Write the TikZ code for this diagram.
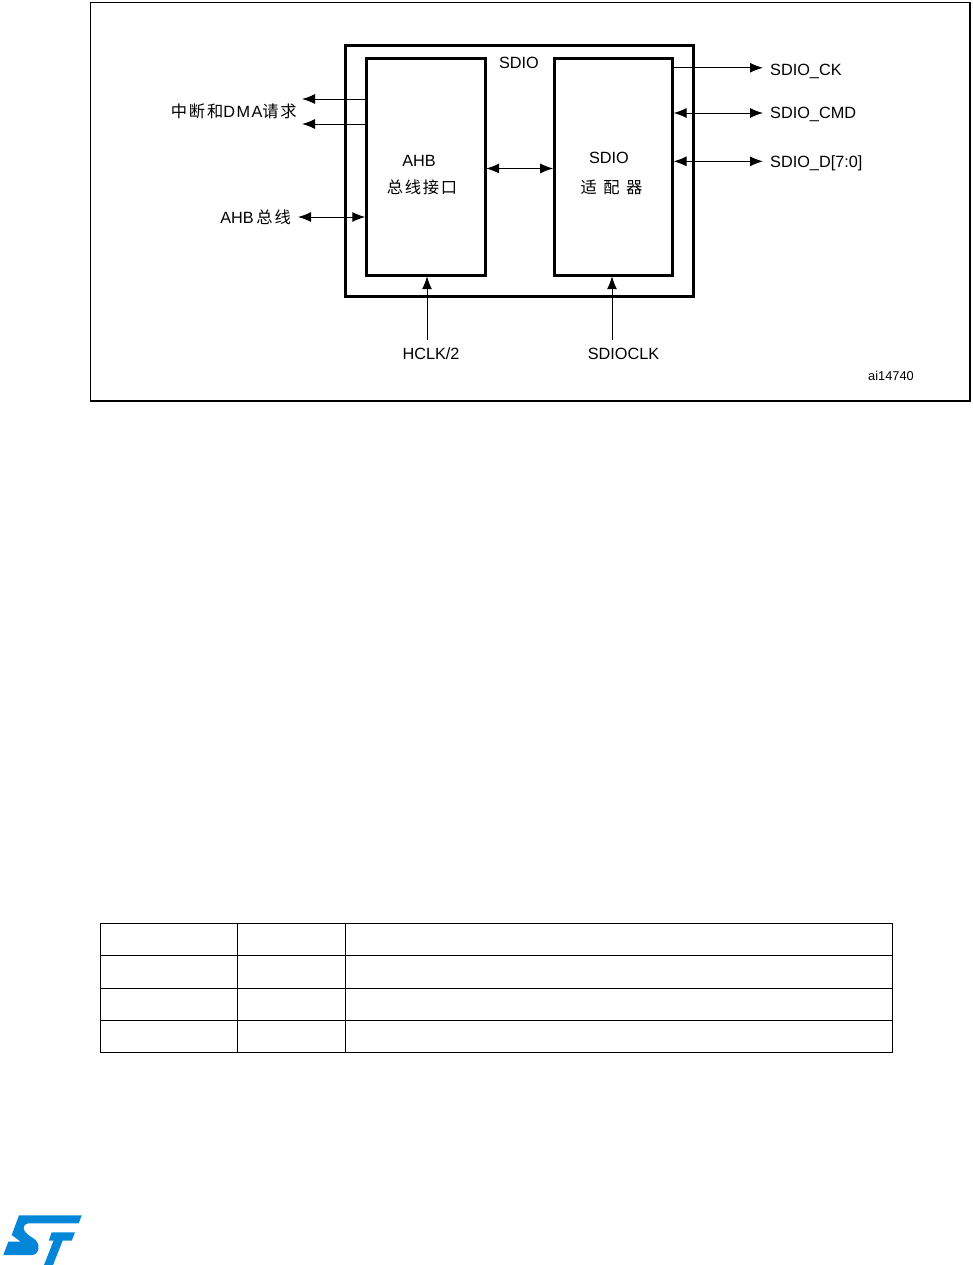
\documentclass[tikz,border=0pt]{standalone}
\usepackage{fontspec}
\setmainfont{Liberation Sans}
\newfontfamily\cjk[LetterSpace=11]{Noto Sans CJK SC}
\usetikzlibrary{arrows.meta,positioning}
\definecolor{LogoBlue}{RGB}{3,134,216}
\newcommand{\px}{0.75pt}

\begin{document}
\begin{tikzpicture}[
    x=0.75pt, y=-0.75pt,
    >={Latex[length=13*\px, width=10*\px]},
    frame/.style={draw, line width=1.3*\px, inner sep=0pt},
    box/.style={draw, line width=3*\px, inner sep=0pt, outer sep=0.7pt},
    txt/.style={inner sep=0pt, font=\fontsize{12.2pt}{14pt}\selectfont},
    sig/.style={txt, anchor=west, inner xsep=5.2pt, text height=8.8pt, text depth=0pt},
    arr/.style={->, line width=1*\px},
    biarr/.style={<->, line width=1*\px},
    grid/.style={line width=1*\px}
]
    \useasboundingbox (0,0) rectangle (972,1265);

    % outer frame and blocks
    \node[frame, minimum width=879.5*\px, minimum height=398.5*\px] (border) at (530.2,201.7) {};
    \node[box, minimum width=347.5*\px, minimum height=251*\px] (sdio) at (519.7,170.5) {};
    \node[box, minimum width=119*\px, minimum height=216.5*\px] (ahb) at (425.7,167) {};
    \node[box, minimum width=118.5*\px, minimum height=216.5*\px] (adapter) at (613.4,167) {};

    % texts inside
    \node[txt] (sdiotitle) at (519,62.5) {SDIO};
    \node[txt] (ahbname) at (419,160.5) {AHB};
    \node[txt] (ahbcn) at (422,187) {\cjk 总线接口};
    \node[txt] (adaptername) at (609,158) {SDIO};
    \node[txt] (adaptercn) at (611.5,187) {\cjk 适\hspace{0.4em}配\hspace{0.4em}器};

    % signals on the right
    \node[sig] (ck) at (763,69.5) {SDIO\_CK};
    \node[sig] (cmd) at (763,113) {SDIO\_CMD};
    \node[sig] (data) at (763,162) {SDIO\_D[7:0]};

    % signals on the left
    \node[txt, anchor=east] (irq) at (297,111) {{\cjk 中断和}{\addfontfeature{LetterSpace=9}DMA}{\cjk 请求}};
    \node[txt, anchor=east, inner xsep=5.2pt] (bus) at (298,217) {AHB\,{\cjk 总线}};
    \coordinate (irqa) at (302,99);
    \coordinate (irqb) at (302,124);

    % clocks
    \node[txt] (hclk) at (431,353.5) {HCLK/2};
    \node[txt] (sdioclk) at (623.5,353.5) {SDIOCLK};
    \coordinate (hclkin) at (427,340);
    \coordinate (sdioclkin) at (612,340);

    \node[txt, font=\fontsize{9.6pt}{11pt}\selectfont] (code) at (891,376) {ai14740};

    % connectors
    \draw[arr] (ahb.west |- irqa) -- (irqa);
    \draw[arr] (ahb.west |- irqb) -- (irqb);
    \draw[biarr] (bus.east) -- (ahb.west |- bus.east);
    \draw[biarr] ([yshift=-1.1pt]ahb.east) -- ([yshift=-1.1pt]adapter.west);
    \draw[arr] ([yshift=1.3pt]ck.west -| adapter.east) -- ([yshift=1.3pt]ck.west);
    \draw[biarr] (cmd.west -| adapter.east) -- (cmd.west);
    \draw[biarr] ([yshift=0.5pt]data.west -| adapter.east) -- ([yshift=0.5pt]data.west);
    \draw[arr] (hclkin) -- (hclkin |- ahb.south);
    \draw[arr] (sdioclkin) -- (sdioclkin |- adapter.south);

    % table
    \draw[grid] (100.5,923) rectangle (892.5,1052.5);
    \foreach \yrow in {955.5,988,1020.5}
        \draw[grid] (100.5,\yrow) -- (892.5,\yrow);
    \foreach \xcol in {237.5,345.5}
        \draw[grid] (\xcol,923) -- (\xcol,1052.5);

    % logo
    \fill[LogoBlue] (19,1215.3) -- (81.7,1215.3) -- (78.7,1223.3) -- (28.3,1223.3) .. controls (21.7,1225) and (20.7,1230.7) .. (33.3,1238.3) .. controls (41.7,1243.3) and (39.3,1255) .. (31.7,1255) -- (3.3,1255) -- (8.3,1241.7) -- (20.7,1241.7) -- (11.7,1235) -- cycle;
    \fill[LogoBlue] (51.7,1232.3) -- (75,1232.3) -- (71.7,1240.7) -- (62.7,1240.7) -- (53,1265) -- (44,1265) -- (53.5,1240.7) -- (48.7,1240.7) -- cycle;
\end{tikzpicture}
\end{document}
